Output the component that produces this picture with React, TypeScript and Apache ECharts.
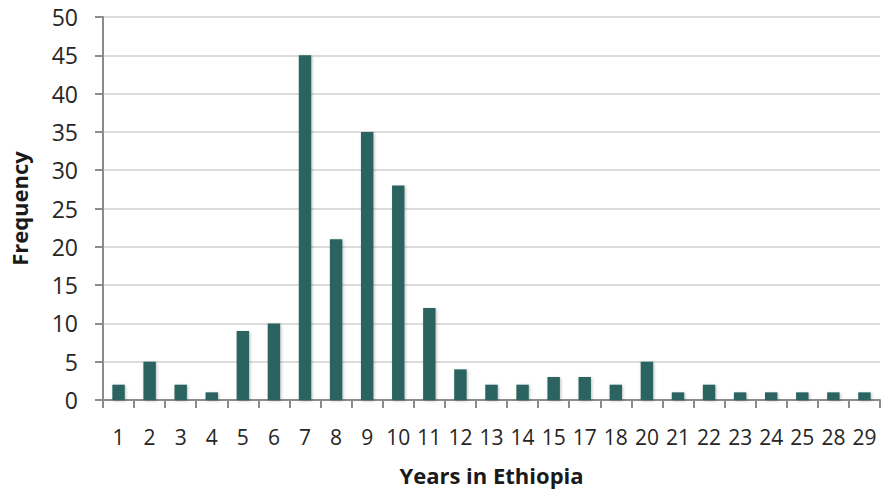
import React, { useEffect, useRef } from "react";
import * as echarts from "echarts";

const categories = ["1","2","3","4","5","6","7","8","9","10","11","12","13","14","15","17","18","20","21","22","23","24","25","28","29"];
const frequency = [2,5,2,1,9,10,45,21,35,28,12,4,2,2,3,3,2,5,1,2,1,1,1,1,1];
const yTicks = { min: 0, max: 50, interval: 5 };

export default function App() {
  const ref = useRef<HTMLDivElement>(null);
  useEffect(() => {
    if (!ref.current) return;
    const chart = echarts.init(ref.current, null, { renderer: "svg" });
    const font = "'Open Sans', sans-serif";
    chart.setOption({
      animation: false,
      backgroundColor: "#ffffff",
      grid: { left: 95, top: 17, right: 2, bottom: 93, containLabel: false },
      xAxis: {
        type: "category",
        data: categories,
        name: "Years in Ethiopia",
        nameLocation: "middle",
        nameGap: 64,
        nameTextStyle: { fontFamily: font, fontSize: 22, fontWeight: "bold", color: "#1a1a1a" },
        axisLine: { lineStyle: { color: "#8c8c8c", width: 2 } },
        axisTick: { show: true, length: 8, alignWithLabel: false, lineStyle: { color: "#8c8c8c", width: 2 } },
        axisLabel: { fontFamily: font, fontSize: 21, color: "#262626", margin: 26, interval: 0 },
      },
      yAxis: {
        type: "value",
        min: yTicks.min,
        max: yTicks.max,
        interval: yTicks.interval,
        name: "Frequency",
        nameLocation: "middle",
        nameGap: 73,
        nameRotate: 90,
        nameTextStyle: { fontFamily: font, fontSize: 22, fontWeight: "bold", color: "#1a1a1a" },
        axisLine: { show: true, lineStyle: { color: "#8c8c8c", width: 2 } },
        axisTick: { show: true, length: 8, lineStyle: { color: "#8c8c8c", width: 2 } },
        axisLabel: { fontFamily: font, fontSize: 23, color: "#262626", margin: 25 },
        splitLine: { show: true, lineStyle: { color: "#d0d0d0", width: 1.5 } },
      },
      series: [
        {
          type: "bar",
          data: frequency,
          barWidth: "40%",
          itemStyle: { color: "#2a6460", shadowColor: "rgba(0,0,0,0.25)", shadowBlur: 3, shadowOffsetX: 1, shadowOffsetY: 1 },
        },
      ],
    });
    return () => chart.dispose();
  }, []);
  return <div ref={ref} style={{ width: 882, height: 493, position: "absolute", left: 0, top: 0 }} />;
}
